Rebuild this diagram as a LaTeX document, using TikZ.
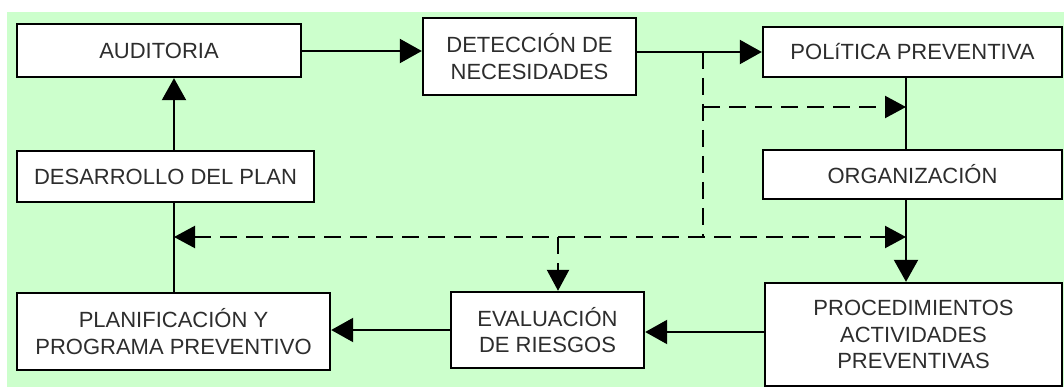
\documentclass[tikz,border=0pt]{standalone}
\usepackage{fontspec}
\setmainfont{Liberation Sans}
\usetikzlibrary{arrows.meta}
\definecolor{bg}{RGB}{204,255,204}
\definecolor{txt}{RGB}{45,45,45}
\begin{document}
\begin{tikzpicture}[x=1pt,y=-1pt,
  box/.style={draw=black,line width=2.4pt,fill=white,inner sep=0pt,align=center,
    text=txt,font=\fontsize{22}{26.5}\selectfont},
  conn/.style={line width=2.2pt,draw=black},
  arr/.style={conn,-{Triangle[length=22pt,width=24pt]}},
  dsh/.style={conn,dash pattern=on 17pt off 9pt},
  darr/.style={dsh,-{Triangle[length=21pt,width=22pt]}},
  both/.style={dsh,{Triangle[length=21pt,width=22pt]}-{Triangle[length=21pt,width=22pt]}}]
\useasboundingbox (0,0) rectangle (1064,387);
\fill[white] (0,0) rectangle (1064,387);
\fill[bg] (7,12) rectangle (1064,387);
% nodes
\node[box,minimum width=284pt,minimum height=53pt] (aud) at (159,50.5) {AUDITORIA};
\node[box,minimum width=213pt,minimum height=77pt] (det) at (529.5,56.5) {DETECCIÓN DE\\NECESIDADES};
\node[box,minimum width=299pt,minimum height=50pt] (pol) at (912.5,52) {POLíTICA PREVENTIVA};
\node[box,minimum width=299pt,minimum height=49pt] (org) at (912.5,174.5) {ORGANIZACIÓN};
\node[box,minimum width=297pt,minimum height=51pt] (des) at (165.5,176.5) {DESARROLLO DEL PLAN};
\node[box,minimum width=313pt,minimum height=77pt] (pla) at (173.5,331.5) {PLANIFICACIÓN Y\\PROGRAMA PREVENTIVO};
\node[box,minimum width=193pt,minimum height=76pt] (eva) at (547.5,330) {EVALUACIÓN\\DE RIESGOS};
\node[box,minimum width=297pt,minimum height=103pt] (pro) at (913.5,334.5) {PROCEDIMIENTOS\\ACTIVIDADES\\PREVENTIVAS};
% reference columns and rows
\coordinate (cL) at (174,0);
\coordinate (cM) at (703,0);
\coordinate (cE) at (558,0);
\coordinate (cR) at (906,0);
\coordinate (r1) at (0,51);
\coordinate (r2) at (0,52);
\coordinate (r3) at (0,107);
\coordinate (r4) at (0,237);
\coordinate (r5) at (0,330);
\coordinate (r6) at (0,332);
\coordinate (jTop) at (cM |- r2);
\coordinate (jMid) at (cM |- r3);
\coordinate (jBot) at (cM |- r4);
\coordinate (tMid) at (cR |- r3);
\coordinate (tL) at (cL |- r4);
\coordinate (tR) at (cR |- r4);
\coordinate (jE) at (cE |- r4);
% solid connectors
\draw[arr] (aud.east |- r1) -- (det.west |- r1);
\draw[arr] (det.east |- r2) -- (pol.west |- r2);
\draw[arr] (des.north -| cL) -- (aud.south -| cL);
\draw[conn] (pla.north -| cL) -- (des.south -| cL);
\draw[conn] (pol.south -| cR) -- (org.north -| cR);
\draw[arr] (org.south -| cR) -- (pro.north -| cR);
\draw[arr] (pro.west |- r6) -- (eva.east |- r6);
\draw[arr] (eva.west |- r5) -- (pla.east |- r5);
% dashed connectors
\draw[dsh] (jTop) -- (jBot);
\draw[darr] (jMid) -- (tMid);
\draw[both] (tL) -- (tR);
\draw[darr] (jE) -- (eva.north -| cE);
\end{tikzpicture}
\end{document}
